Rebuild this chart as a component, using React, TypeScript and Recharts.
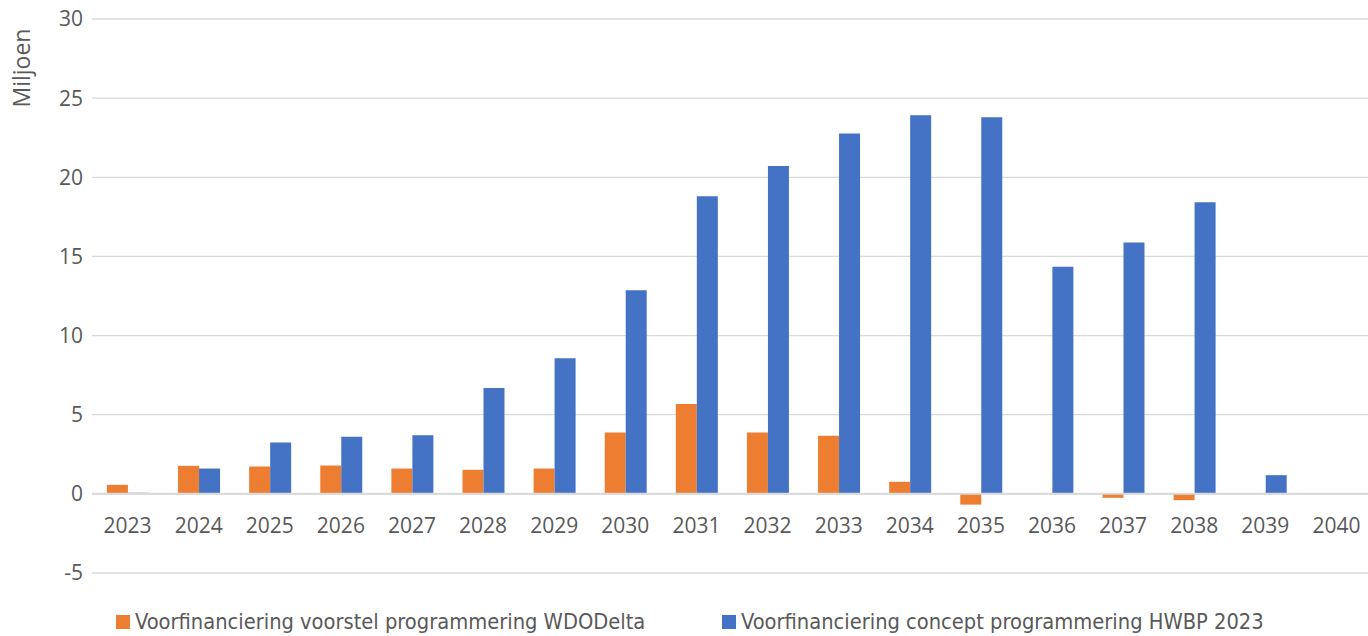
import React from 'react';
import { BarChart, Bar, XAxis, YAxis, CartesianGrid, ReferenceLine } from 'recharts';

const years = ['2023', '2024', '2025', '2026', '2027', '2028', '2029', '2030', '2031', '2032', '2033', '2034', '2035', '2036', '2037', '2038', '2039', '2040'];
const wdoDelta = [0.57, 1.77, 1.73, 1.79, 1.6, 1.52, 1.6, 3.88, 5.67, 3.88, 3.67, 0.76, -0.68, 0, -0.25, -0.4, 0, 0];
const hwbp = [0.07, 1.6, 3.25, 3.61, 3.71, 6.68, 8.56, 12.87, 18.8, 20.72, 22.77, 23.92, 23.8, 14.35, 15.88, 18.43, 1.18, 0];
const yTicks = [-5, 0, 5, 10, 15, 20, 25, 30];
const seriesNames = ['Voorfinanciering voorstel programmering WDODelta', 'Voorfinanciering concept programmering HWBP 2023'];
const colors = ['#ED7D31', '#4472C4'];

const data = years.map((y, i) => ({ year: y, wdo: wdoDelta[i], hwbp: hwbp[i] }));

const font = '"Open Sans", "Noto Sans", sans-serif';

function YearTick(props: any) {
  const { x, y, payload } = props;
  return (
    <text x={x} y={y} dy={-40} textAnchor="middle" fill="#595959" fontSize={21} fontFamily={font}>
      {payload.value}
    </text>
  );
}

export default function App() {
  return (
    <div style={{ width: 1368, height: 636, overflow: 'hidden', position: 'relative', background: '#fff' }}>
      <style>{'body{margin:0;overflow:hidden}'}</style>
      <BarChart
        width={1372}
        height={636}
        data={data}
        margin={{ top: 19, right: 0, left: 0, bottom: 33 }}
        barCategoryGap="21%"
        barGap={0}
      >
        <CartesianGrid vertical={false} stroke="#d9d9d9" strokeWidth={1.3} />
        <XAxis
          dataKey="year"
          height={30}
          axisLine={false}
          tickLine={false}
          tickSize={0}
          tickMargin={0}
          interval={0}
          tick={<YearTick />}
        />
        <YAxis
          width={92}
          domain={[-5, 30]}
          ticks={yTicks}
          interval={0}
          axisLine={false}
          tickLine={false}
          tickSize={0}
          tickMargin={9}
          tick={{ fill: '#595959', fontSize: 21, fontFamily: font }}
          label={() => (
            <text
              x={21}
              y={68}
              transform="rotate(-90, 21, 68)"
              textAnchor="middle"
              dominantBaseline="central"
              fill="#595959"
              fontSize={23}
              fontFamily={font}
            >
              Miljoen
            </text>
          )}
        />
        <ReferenceLine y={0} stroke="#d9d9d9" strokeWidth={2} />
        <Bar dataKey="wdo" fill={colors[0]} name={seriesNames[0]} isAnimationActive={false} />
        <Bar dataKey="hwbp" fill={colors[1]} name={seriesNames[1]} isAnimationActive={false} />
      </BarChart>
      <div
        style={{
          position: 'absolute',
          top: 609,
          left: 116,
          display: 'flex',
          fontFamily: '"Liberation Sans Narrow", "DejaVu Sans Condensed", "Open Sans", sans-serif',
          fontSize: 21.7,
          lineHeight: '25px',
          color: '#595959',
          whiteSpace: 'nowrap',
        }}
      >
        {seriesNames.map((n, i) => (
          <div key={n} style={{ display: 'flex', alignItems: 'center', width: 606 }}>
            <span style={{ display: 'inline-block', width: 14, height: 14, background: colors[i], marginRight: 5 }} />
            <span>{n}</span>
          </div>
        ))}
      </div>
    </div>
  );
}
